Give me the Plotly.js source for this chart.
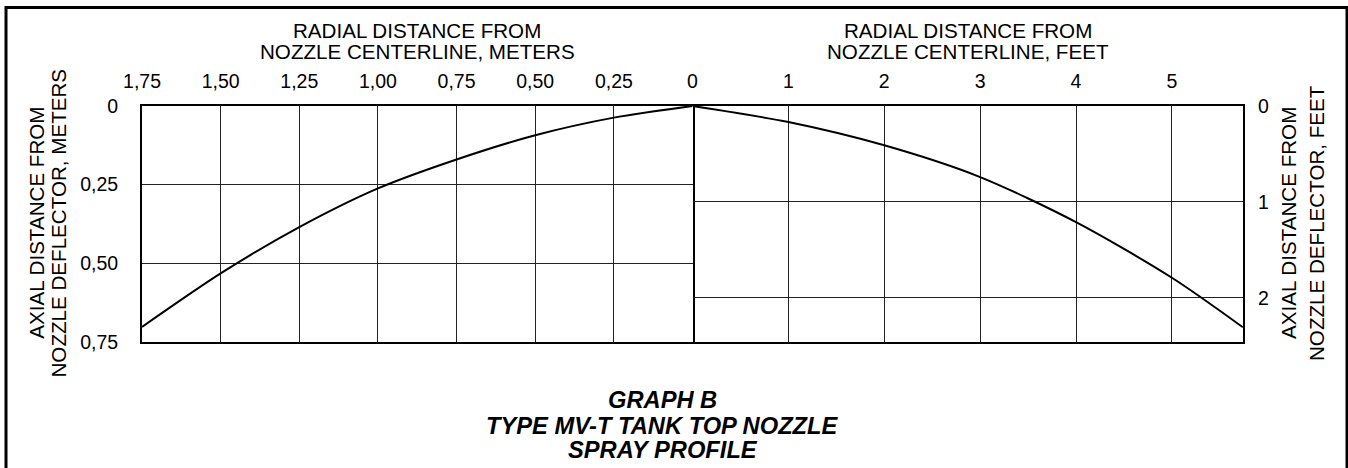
<!DOCTYPE html>
<html>
<head>
<meta charset="utf-8">
<script src="https://cdn.plot.ly/plotly-3.0.1.min.js"></script>
<style>
  html, body { margin: 0; padding: 0; background: #fff; }
  #chart { width: 1348px; height: 468px; }
</style>
</head>
<body>
<div id="chart"></div>
<script>
// ---- Data ----
// Left half: radial distance in meters vs axial distance in meters
const radialMeters = [0, 0.25, 0.50, 0.75, 1.00, 1.25, 1.50, 1.75];
const axialMeters  = [0, 0.037, 0.093, 0.170, 0.262, 0.385, 0.532, 0.702];
// Right half: radial distance in feet vs axial distance in feet
const radialFeet = [0, 1, 2, 3, 4, 5, 5.74];
const axialFeet  = [0, 0.167, 0.41, 0.741, 1.211, 1.791, 2.307];

// Tick labels
const meterTickVals   = [1.75, 1.50, 1.25, 1.00, 0.75, 0.50, 0.25];
const meterTickText   = ["1,75", "1,50", "1,25", "1,00", "0,75", "0,50", "0,25"];
const feetTickVals    = [0, 1, 2, 3, 4, 5];
const feetTickText    = ["0", "1", "2", "3", "4", "5"];
const axialMTickVals  = [0, 0.25, 0.50, 0.75];
const axialMTickText  = ["0", "0,25", "0,50", "0,75"];
const axialFtTickVals = [0, 1, 2];
const axialFtTickText = ["0", "1", "2"];

// Titles
const xTitleMeters = ["RADIAL DISTANCE FROM", "NOZZLE CENTERLINE, METERS"];
const xTitleFeet   = ["RADIAL DISTANCE FROM", "NOZZLE CENTERLINE, FEET"];
const yTitleMeters = ["AXIAL DISTANCE FROM", "NOZZLE DEFLECTOR, METERS"];
const yTitleFeet   = ["AXIAL DISTANCE FROM", "NOZZLE DEFLECTOR, FEET"];
const chartTitle   = ["GRAPH B", "TYPE MV-T TANK TOP NOZZLE", "SPRAY PROFILE"];

const FONT = '"Liberation Sans", Arial, Helvetica, sans-serif';
const FS_TICK = 19.5;
const FS_TITLE = 20.6;
const FS_MAIN = 23.7;
const M_TO_FT = 3.28084;
const maxMeters = 1.75;
const maxAxialM = 0.75;

const traces = [
  { x: radialMeters, y: axialMeters, xaxis: 'x', yaxis: 'y', mode: 'lines',
    line: { color: '#000', width: 2, shape: 'spline', smoothing: 0.8 }, hoverinfo: 'skip' },
  { x: radialFeet, y: axialFeet, xaxis: 'x2', yaxis: 'y2', mode: 'lines',
    line: { color: '#000', width: 2, shape: 'spline', smoothing: 0.8 }, hoverinfo: 'skip' }
];

const axisCommon = {
  showline: true, mirror: true, linecolor: '#000', linewidth: 2,
  showgrid: true, gridcolor: '#222', gridwidth: 1,
  zeroline: false, ticks: '', fixedrange: true,
  tickfont: { family: FONT, size: FS_TICK, color: '#000' }
};

const annotations = [];
function addLine(text, x, y, opts) {
  annotations.push(Object.assign({
    text: text, x: x, y: y, xref: 'paper', yref: 'paper',
    xanchor: 'center', yanchor: 'middle', showarrow: false,
    font: { family: FONT, size: FS_TITLE, color: '#000' }
  }, opts || {}));
}
// pixel helpers (plot area: left 142, right 1243, top 106, bottom 342)
const L = 142, R = 1243, T = 106, B = 342;
const px = X => (X - L) / (R - L);
const py = Y => (B - Y) / (B - T);

addLine(xTitleMeters[0], 0.25, py(30.7));
addLine(xTitleMeters[1], 0.25, py(51.7));
addLine(xTitleFeet[0], 0.75, py(30.7));
addLine(xTitleFeet[1], 0.75, py(51.7));
addLine(yTitleMeters[0], px(35.8), py(223), { textangle: -90 });
addLine(yTitleMeters[1], px(57.5), py(223), { textangle: -90 });
addLine(yTitleFeet[0], px(1288), py(223), { textangle: -90 });
addLine(yTitleFeet[1], px(1316), py(223), { textangle: -90 });
const titleY = [400, 425.7, 450.3];
chartTitle.forEach((t, i) => addLine('<b><i>' + t + '</i></b>', px(662.5), py(titleY[i]),
  { font: { family: FONT, size: FS_MAIN, color: '#000' } }));

const layout = {
  width: 1348, height: 468,
  margin: { l: L, r: 1348 - R, t: T, b: 468 - B, pad: 0 },
  paper_bgcolor: '#fff', plot_bgcolor: '#fff',
  showlegend: false,
  xaxis: Object.assign({}, axisCommon, {
    domain: [0, 0.5], range: [maxMeters, 0], side: 'top', anchor: 'y',
    tickmode: 'array', tickvals: meterTickVals, ticktext: meterTickText,
    ticklabelstandoff: 8
  }),
  yaxis: Object.assign({}, axisCommon, {
    domain: [0, 1], range: [maxAxialM, 0], side: 'left', anchor: 'x',
    tickmode: 'array', tickvals: axialMTickVals, ticktext: axialMTickText,
    ticklabelstandoff: 18
  }),
  xaxis2: Object.assign({}, axisCommon, {
    domain: [0.5, 1], range: [0, maxMeters * M_TO_FT], side: 'top', anchor: 'y2',
    tickmode: 'array', tickvals: feetTickVals, ticktext: feetTickText,
    ticklabelstandoff: 8
  }),
  yaxis2: Object.assign({}, axisCommon, {
    domain: [0, 1], range: [maxAxialM * M_TO_FT, 0], side: 'right', anchor: 'x2',
    mirror: false,
    tickmode: 'array', tickvals: axialFtTickVals, ticktext: axialFtTickText,
    ticklabelstandoff: 9
  }),
  annotations: annotations,
  shapes: [{
    type: 'rect', xref: 'paper', yref: 'paper',
    x0: px(6), x1: px(1347), y0: py(475), y1: py(7.5),
    line: { color: '#000', width: 3 }, fillcolor: 'rgba(0,0,0,0)', layer: 'above'
  }]
};

Plotly.newPlot('chart', traces, layout, { staticPlot: true, displayModeBar: false });
</script>
</body>
</html>
